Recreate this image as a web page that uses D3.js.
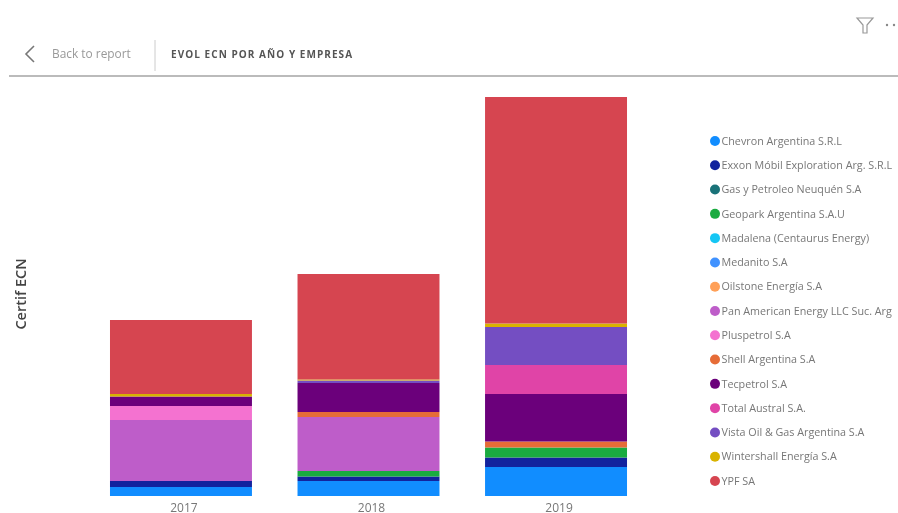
<!DOCTYPE html>
<html>
<head>
<meta charset="utf-8">
<script src="https://cdn.jsdelivr.net/npm/d3@7"></script>
<style>
html, body { margin: 0; padding: 0; background: #fff; overflow: hidden; }
svg { display: block; font-family: "Open Sans", sans-serif; filter: blur(0.7px); }
</style>
</head>
<body>
<script>
var years = ["2017", "2018", "2019"];
var companies = ["Chevron Argentina S.R.L", "Exxon Móbil Exploration Arg. S.R.L", "Gas y Petroleo Neuquén S.A",
    "Geopark Argentina S.A.U", "Madalena (Centaurus Energy)", "Medanito S.A", "Oilstone Energía S.A",
    "Pan American Energy LLC Suc. Arg", "Pluspetrol S.A", "Shell Argentina S.A", "Tecpetrol S.A",
    "Total Austral S.A.", "Vista Oil & Gas Argentina S.A", "Wintershall Energía S.A", "YPF SA"];
var colors = ["#118DFF", "#12239E", "#197278", "#1AAB40", "#15C6F4", "#4092FF", "#FFA058",
    "#BE5DC9", "#F472D0", "#E66C37", "#6B007B", "#E044A7", "#744EC2", "#D9B300", "#D64550"];

// values, one array per year, same order as companies
var values2017 = [9, 6, 0, 0, 0, 0, 0, 61, 14, 0, 9.5, 0, 0, 2.5, 74];
var values2018 = [15, 4.5, 0, 5.5, 0, 0, 0, 54, 0, 5, 29, 0, 2.5, 1, 105.5];
var values2019 = [29, 9.5, 0, 10, 0, 0, 0, 0, 0, 6, 47.5, 29, 38, 3.5, 226.5];
var yearValues = [values2017, values2018, values2019];
var axisTitle = "Certif ECN";
var chartTitle = "EVOL ECN POR AÑO Y EMPRESA";
var backLabel = "Back to report";

var width = 898, height = 513;

var rows = years.map(function (y, i) {
    var row = { year: y };
    companies.forEach(function (c, j) { row[c] = yearValues[i][j]; });
    return row;
});

var svg = d3.select("body").append("svg")
    .attr("width", width)
    .attr("height", height);

var x = d3.scaleBand()
    .domain(years)
    .range([87.2, 649.8])
    .paddingInner(0.243)
    .paddingOuter(0.1215);

var y = d3.scaleLinear()
    .domain([0, 399])
    .range([496, 97]);

var color = d3.scaleOrdinal().domain(companies).range(colors);

var stacked = d3.stack().keys(companies)(rows);

svg.selectAll("g.layer")
    .data(stacked)
    .enter()
    .append("g")
    .attr("class", "layer")
    .attr("fill", function (d) { return color(d.key); })
    .selectAll("rect")
    .data(function (d) { return d; })
    .enter()
    .append("rect")
    .attr("x", function (d) { return x(d.data.year); })
    .attr("y", function (d) { return y(d[1]); })
    .attr("width", x.bandwidth())
    .attr("height", function (d) { return y(d[0]) - y(d[1]); });

// x axis, labels sit a little right of the bar centre in the original
var xAxis = svg.append("g")
    .attr("transform", "translate(3,496)")
    .call(d3.axisBottom(x).tickSize(0).tickPadding(7));
xAxis.select(".domain").remove();
xAxis.selectAll("text")
    .attr("fill", "#777")
    .style("font-size", "12px")
    .style("font-family", "'Open Sans', sans-serif");

// y title
svg.append("text")
    .attr("transform", "translate(26,294) rotate(-90)")
    .attr("text-anchor", "middle")
    .attr("fill", "#444")
    .style("font-size", "14.5px")
    .style("font-weight", 600)
    .text(axisTitle);

// legend
var legendY = d3.scalePoint().domain(companies).range([141, 481]);

var legend = svg.selectAll("g.legend")
    .data(companies)
    .enter()
    .append("g")
    .attr("class", "legend")
    .attr("transform", function (d) { return "translate(715," + legendY(d) + ")"; });

legend.append("circle")
    .attr("r", 5)
    .attr("fill", function (d) { return color(d); });

legend.append("text")
    .attr("x", 6.5)
    .attr("dy", "0.35em")
    .attr("fill", "#777")
    .style("font-size", "10.75px")
    .text(function (d) { return d; });

// header
svg.append("path")
    .attr("d", "M34,46 L26,54 L34,62")
    .attr("fill", "none")
    .attr("stroke", "#777")
    .attr("stroke-width", 1.6);

svg.append("text")
    .attr("x", 52)
    .attr("y", 58)
    .attr("fill", "#999")
    .style("font-size", "11.9px")
    .text(backLabel);

svg.append("line")
    .attr("x1", 155).attr("x2", 155)
    .attr("y1", 40).attr("y2", 71)
    .attr("stroke", "#ccc");

svg.append("text")
    .attr("x", 171)
    .attr("y", 58)
    .attr("fill", "#555")
    .style("font-size", "10px")
    .style("font-weight", 700)
    .style("letter-spacing", "1.05px")
    .text(chartTitle);

svg.append("line")
    .attr("x1", 9).attr("x2", 898)
    .attr("y1", 76).attr("y2", 76)
    .attr("stroke", "#bbb")
    .attr("stroke-width", 2);

// filter icon and dots
svg.append("path")
    .attr("d", "M857,18 L873,18 L867,25 L867,33 L863,33 L863,25 Z")
    .attr("fill", "none")
    .attr("stroke", "#999")
    .attr("stroke-width", 1.2);

svg.selectAll("circle.more")
    .data([887, 894])
    .enter()
    .append("circle")
    .attr("class", "more")
    .attr("cx", function (d) { return d; })
    .attr("cy", 25)
    .attr("r", 1.2)
    .attr("fill", "#888");
</script>
</body>
</html>
